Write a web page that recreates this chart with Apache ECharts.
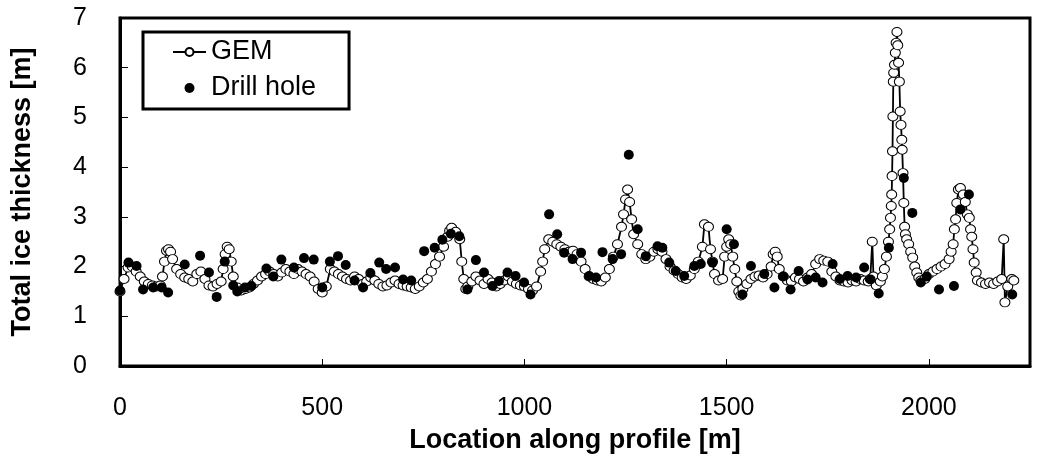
<!DOCTYPE html>
<html>
<head>
<meta charset="utf-8">
<script src="https://cdn.jsdelivr.net/npm/echarts@6/dist/echarts.min.js"></script>
<style>
html,body{margin:0;padding:0;background:#fff;}
#chart{width:1044px;height:459px;}
</style>
</head>
<body>
<div id="chart"></div>
<script>
// GEM profile: [location (m), total ice thickness (m)]
const gemData = [
[0,1.50],[10,1.75],[20,1.98],[30,2.00],[40,1.90],[50,1.80],[60,1.70],[70,1.65],[80,1.62],[90,1.60],
[100,1.62],[105,1.80],[110,2.10],[115,2.32],[120,2.35],[125,2.30],[130,2.15],[140,1.95],[150,1.85],[160,1.78],
[170,1.75],[180,1.70],[190,1.85],[200,1.90],[210,1.75],[220,1.62],[230,1.60],[240,1.65],[250,1.70],[255,1.95],
[260,2.25],[265,2.40],[270,2.35],[275,2.10],[280,1.80],[290,1.58],[300,1.52],[310,1.55],[320,1.58],[330,1.65],
[340,1.72],[350,1.80],[360,1.85],[370,1.90],[380,1.85],[390,1.80],[400,1.88],[410,1.95],[420,1.90],[430,1.85],
[440,1.95],[450,1.90],[460,1.85],[470,1.80],[480,1.70],[490,1.55],[500,1.48],[510,1.60],[520,1.95],[530,1.90],
[540,1.85],[550,1.80],[560,1.75],[570,1.72],[580,1.80],[590,1.75],[600,1.65],[610,1.70],[620,1.78],[630,1.72],
[640,1.65],[650,1.60],[660,1.62],[670,1.68],[680,1.72],[690,1.65],[700,1.62],[710,1.60],[720,1.58],[730,1.55],
[740,1.60],[750,1.68],[760,1.75],[770,1.90],[780,2.05],[790,2.20],[800,2.40],[810,2.60],[815,2.72],[820,2.78],
[830,2.70],[840,2.55],[845,2.10],[850,1.75],[855,1.55],[860,1.60],[870,1.70],[880,1.80],[890,1.72],[900,1.65],
[910,1.75],[920,1.68],[930,1.60],[940,1.65],[950,1.72],[960,1.80],[970,1.70],[980,1.65],[990,1.62],[1000,1.60],
[1010,1.55],[1020,1.52],[1030,1.60],[1040,1.90],[1045,2.10],[1050,2.35],[1060,2.55],[1070,2.50],[1080,2.45],[1090,2.40],
[1100,2.35],[1110,2.30],[1120,2.32],[1130,2.25],[1140,2.10],[1150,1.95],[1160,1.80],[1170,1.75],[1180,1.72],[1190,1.70],
[1200,1.78],[1210,1.95],[1220,2.20],[1230,2.45],[1240,2.80],[1245,3.05],[1250,3.35],[1255,3.55],[1260,3.30],[1265,2.95],
[1270,2.65],[1280,2.45],[1290,2.25],[1300,2.15],[1310,2.20],[1320,2.30],[1330,2.35],[1340,2.30],[1350,2.15],[1360,2.00],
[1370,1.92],[1380,1.85],[1390,1.78],[1400,1.75],[1410,1.82],[1420,1.95],[1430,2.10],[1440,2.40],[1445,2.85],[1455,2.80],
[1460,2.35],[1465,2.10],[1470,1.85],[1480,1.72],[1490,1.75],[1495,2.20],[1500,2.40],[1505,2.55],[1510,2.45],[1515,2.20],
[1520,1.95],[1525,1.70],[1530,1.50],[1535,1.42],[1540,1.55],[1550,1.65],[1560,1.75],[1570,1.80],[1580,1.82],[1590,1.78],
[1600,1.85],[1610,2.00],[1615,2.25],[1620,2.30],[1625,2.20],[1630,1.95],[1640,1.80],[1650,1.72],[1660,1.70],[1670,1.78],
[1680,1.75],[1690,1.70],[1700,1.78],[1710,1.85],[1720,2.05],[1730,2.15],[1740,2.12],[1750,2.10],[1760,1.90],[1770,1.80],
[1780,1.72],[1790,1.70],[1800,1.68],[1810,1.72],[1820,1.70],[1830,1.75],[1840,1.72],[1850,1.70],[1855,1.75],[1860,2.50],
[1863,1.80],[1870,1.62],[1880,1.70],[1885,1.80],[1890,1.95],[1895,2.20],[1900,2.50],[1903,2.75],[1905,2.98],[1907,3.22],
[1908,3.45],[1909,3.82],[1910,4.32],[1911,5.02],[1912,5.72],[1913,5.90],[1915,6.06],[1917,6.30],[1919,6.50],[1921,6.72],
[1923,6.45],[1925,6.10],[1927,5.72],[1929,5.12],[1931,4.85],[1933,4.55],[1934,4.35],[1936,3.88],[1938,3.28],[1940,2.80],
[1942,2.65],[1945,2.55],[1950,2.45],[1955,2.30],[1960,2.18],[1965,2.00],[1970,1.88],[1975,1.78],[1980,1.72],[1990,1.75],
[2000,1.85],[2010,1.90],[2020,1.95],[2030,2.00],[2040,2.05],[2050,2.15],[2055,2.30],[2060,2.45],[2063,2.75],[2066,2.95],
[2069,3.28],[2073,3.55],[2078,3.58],[2085,3.45],[2090,3.30],[2095,3.05],[2100,2.98],[2103,2.75],[2106,2.60],[2109,2.35],
[2112,2.08],[2117,1.88],[2120,1.72],[2130,1.68],[2140,1.65],[2150,1.68],[2160,1.65],[2170,1.70],[2180,1.75],[2185,2.55],
[2188,1.28],[2195,1.60],[2205,1.75],[2210,1.72]
];

// Drill hole measurements: [location (m), total ice thickness (m)]
const drillData = [
[0,1.52],[21,2.08],[41,2.01],[57,1.54],[82,1.58],[103,1.58],[119,1.48],[160,2.04],[198,2.22],[220,1.88],
[239,1.39],[259,2.10],[280,1.62],[290,1.50],[309,1.58],[325,1.61],[362,1.96],[379,1.80],[399,2.14],[430,1.98],
[455,2.17],[479,2.14],[500,1.58],[519,2.10],[539,2.21],[558,2.03],[580,1.72],[601,1.58],[619,1.87],[641,2.08],
[658,1.95],[680,1.98],[700,1.74],[720,1.72],[752,2.31],[778,2.38],[797,2.54],[818,2.66],[839,2.61],[859,1.54],
[880,2.13],[900,1.88],[921,1.61],[937,1.71],[958,1.88],[978,1.81],[999,1.68],[1015,1.44],[1061,3.05],[1081,2.65],
[1098,2.28],[1119,2.15],[1140,2.28],[1160,1.81],[1177,1.78],[1193,2.29],[1218,2.15],[1239,2.25],[1258,4.25],[1280,2.75],
[1300,2.21],[1329,2.41],[1341,2.38],[1358,2.08],[1374,1.91],[1395,1.81],[1420,2.01],[1436,2.05],[1465,2.08],[1500,2.75],
[1518,2.45],[1539,1.44],[1560,2.01],[1593,1.85],[1618,1.58],[1640,1.80],[1658,1.54],[1678,1.91],[1700,1.74],[1720,1.78],
[1737,1.68],[1762,2.05],[1780,1.75],[1799,1.81],[1820,1.78],[1840,1.98],[1856,1.74],[1876,1.46],[1901,2.38],[1938,3.78],
[1959,3.08],[1980,1.68],[1995,1.80],[2025,1.54],[2062,1.61],[2078,3.15],[2099,3.45],[2206,1.44]
];

const seriesNames = ['GEM', 'Drill hole'];
const xTitle = 'Location along profile [m]';
const yTitle = 'Total ice thickness [m]';

const FONT = '"Liberation Sans", Arial, Helvetica, sans-serif';
const chart = echarts.init(document.getElementById('chart'), null, {renderer: 'canvas'});
chart.setOption({
  animation: false,
  backgroundColor: '#fff',
  grid: {
    left: 120, right: 14, top: 18, bottom: 92,
    show: true, borderColor: '#000', borderWidth: 3, backgroundColor: 'transparent'
  },
  legend: {
    data: [seriesNames[0], seriesNames[1]],
    orient: 'vertical',
    left: 143, top: 32,
    padding: [6, 33, 7, 29],
    itemGap: 8,
    itemWidth: 33, itemHeight: 10,
    backgroundColor: '#fff',
    borderColor: '#000', borderWidth: 3,
    textStyle: {fontFamily: FONT, fontSize: 27, color: '#000', lineHeight: 28},
    z: 10
  },
  xAxis: {
    type: 'value', min: 0, max: 2250, interval: 500,
    name: xTitle, nameLocation: 'middle', nameGap: 61,
    nameTextStyle: {fontFamily: FONT, fontSize: 27, fontWeight: 'bold', color: '#000'},
    axisLine: {show: true, lineStyle: {color: '#000', width: 3}},
    axisTick: {show: true, inside: true, length: 7, lineStyle: {color: '#000', width: 1}},
    axisLabel: {fontFamily: FONT, fontSize: 25, color: '#000', margin: 30, showMaxLabel: false,
      formatter: function (v) { return String(v); }},
    splitLine: {show: false}
  },
  yAxis: {
    type: 'value', min: 0, max: 7, interval: 1,
    name: yTitle, nameLocation: 'middle', nameGap: 84, nameRotate: 90,
    nameTextStyle: {fontFamily: FONT, fontSize: 27, fontWeight: 'bold', color: '#000'},
    axisLine: {show: true, lineStyle: {color: '#000', width: 3}},
    axisTick: {show: true, inside: true, length: 8, lineStyle: {color: '#000', width: 1}},
    axisLabel: {fontFamily: FONT, fontSize: 25, color: '#000', margin: 33,
      formatter: function (v) { return String(v); }},
    splitLine: {show: false}
  },
  series: [
    {
      name: seriesNames[0], type: 'line', data: gemData,
      showSymbol: true, showAllSymbol: true,
      symbol: 'circle', symbolSize: [10, 9],
      itemStyle: {color: '#fff', borderColor: '#000', borderWidth: 1, opacity: 1},
      lineStyle: {color: '#000', width: 1.8},
      z: 2
    },
    {
      name: seriesNames[1], type: 'scatter', data: drillData,
      symbol: 'circle', symbolSize: 10,
      itemStyle: {color: '#000', opacity: 1},
      z: 3
    }
  ]
});
</script>
</body>
</html>
